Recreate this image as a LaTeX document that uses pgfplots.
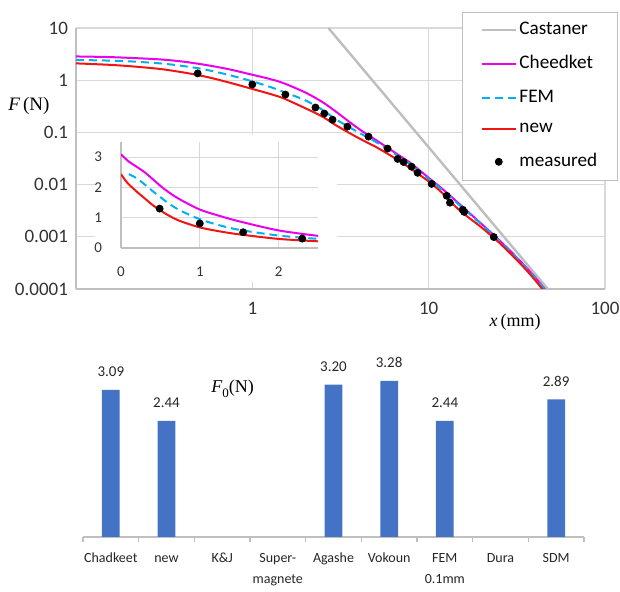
\documentclass[border=0pt]{standalone}
\usepackage{fontspec}
\setmainfont{Carlito}
\newfontfamily\serif{Liberation Serif}
\usepackage{pgfplots}
\usepackage{pgfplotstable}
\pgfplotsset{compat=1.18}
\pgfplotsset{/pgf/number format/assume math mode=true}

\definecolor{gridc}{RGB}{217,217,217}
\definecolor{axc}{RGB}{191,191,191}
\definecolor{cast}{RGB}{190,190,190}
\definecolor{chee}{RGB}{235,0,235}
\definecolor{fem}{RGB}{0,176,240}
\definecolor{newc}{RGB}{240,20,20}
\definecolor{barc}{HTML}{4472C4}

% main log-log curves
\pgfplotstableread{
x F
0.1 2.85
0.15 2.78
0.2 2.68
0.3 2.5
0.4 2.28
0.5 2.05
0.6 1.85
0.75 1.6
1 1.27
1.25 1.06
1.5 0.88
2 0.58
2.5 0.38
3 0.245
4 0.118
5 0.072
6 0.048
7 0.034
8 0.025
10 0.0135
12 0.0082
15 0.0042
20 0.00175
25 0.00088
30 0.00048
35 0.00028
40 0.00017
45 0.000105
50 0.000068
}\cheetab

\pgfplotstableread{
x F
0.1 2.44
0.15 2.38
0.2 2.3
0.3 2.1
0.4 1.88
0.5 1.68
0.6 1.48
0.75 1.24
1 0.95
1.25 0.75
1.5 0.6
2 0.41
2.5 0.27
3 0.175
4 0.1
5 0.066
6 0.045
7 0.032
8 0.0235
10 0.0128
12 0.0078
15 0.004
20 0.0017
25 0.00085
30 0.00047
35 0.00027
40 0.000165
45 0.000102
50 0.000066
}\femtab

\pgfplotstableread{
x F
0.1 2.1
0.15 1.98
0.2 1.86
0.3 1.64
0.4 1.42
0.5 1.24
0.6 1.08
0.75 0.89
1 0.68
1.25 0.55
1.5 0.45
2 0.29
2.5 0.2
3 0.135
4 0.078
5 0.053
6 0.037
7 0.027
8 0.0196
10 0.0115
12 0.0068
15 0.0032
20 0.0015
25 0.00078
30 0.00043
35 0.00025
40 0.00015
45 0.000092
50 0.00006
}\newtab

\pgfplotstableread{
x F
0.49 1.35
1.0 0.83
1.54 0.53
2.28 0.30
2.56 0.23
2.85 0.175
3.46 0.129
4.56 0.083
5.85 0.049
6.67 0.031
7.21 0.027
8.0 0.022
8.66 0.0168
10.4 0.0103
12.65 0.0061
13.2 0.0045
15.6 0.0033
15.9 0.0030
23.4 0.00099
}\meastab

\begin{document}
\begin{tikzpicture}
\path[use as bounding box] (0,0) rectangle (310pt,296pt);

% ---- top: log-log
\begin{axis}[
  at={(38pt,151.5pt)}, anchor=south west, scale only axis,
  width=264.5pt, height=130.5pt,
  xmode=log, ymode=log,
  xmin=0.1, xmax=100, ymin=1e-4, ymax=10,
  xtick={1,10,100}, xticklabels={1,10,100},
  ytick={1e-4,1e-3,1e-2,1e-1,1,10},
  yticklabels={0.0001,0.001,0.01,0.1,1,10},
  minor xtick={}, minor ytick={},
  grid=major, major grid style={gridc, line width=0.6pt},
  axis x line*=bottom, axis y line*=left,
  axis line style={axc, line width=0.8pt, -},
  tick style={draw=none},
  tick label style={font=\fontsize{9.5}{11}\selectfont, text=black!80},
  xticklabel style={yshift=-3pt},
  yticklabel style={xshift=-0.5pt},
  xlabel={{\serif\itshape x}\,{\serif (mm)}},
  xlabel style={at={(axis description cs:0.83,0)}, anchor=center, yshift=-16.5pt,
    font=\fontsize{9}{10}\selectfont},
  ylabel={{\serif\itshape F}\,{\serif (N)}},
  ylabel style={at={(axis description cs:-0.089,0.7)}, rotate=-90, anchor=center,
    font=\fontsize{9.5}{10}\selectfont},
  legend cell align=left,
  legend style={at={(1.0246,1.062)}, anchor=north east, draw=axc, fill=white,
    font=\fontsize{9.6}{11}\selectfont, row sep=5pt, inner xsep=9pt, inner ysep=3pt,
    nodes={inner xsep=1.2pt}},
]
\addplot[cast, line width=1.2pt] coordinates {(2.70,10) (47.4,0.0001)};
\addlegendentry{Castaner}
\addplot[chee, line width=1pt, smooth] table[x=x, y=F] {\cheetab};
\addlegendentry{Cheedket}
\addplot[fem, line width=1pt, dash pattern=on 4pt off 2.5pt, smooth] table[x=x, y=F] {\femtab};
\addlegendentry{FEM}
\addplot[newc, line width=1pt, smooth] table[x=x, y=F] {\newtab};
\addlegendentry{new}
\addplot[only marks, mark=*, mark size=1.75pt, black] table[x=x, y=F] {\meastab};
\addlegendentry{measured}
\end{axis}

% white background for the inset
\fill[white] (47.5pt,155pt) rectangle (168.5pt,228.5pt);

% ---- inset: linear
\begin{axis}[
  at={(60.5pt,172pt)}, anchor=south west, scale only axis,
  width=98.5pt, height=53pt,
  xmin=0, xmax=2.5, ymin=0, ymax=3.5,
  xtick={0,1,2}, ytick={0,1,2,3},
  grid=major, major grid style={gridc, line width=0.6pt},
  axis x line*=bottom, axis y line*=left,
  axis line style={axc, line width=0.8pt, -},
  tick style={draw=none},
  tick label style={font=\fontsize{7.5}{9}\selectfont, text=black!80},
  xticklabel style={yshift=-6pt},
  yticklabel style={xshift=-6pt},
]
\addplot[chee, line width=1pt, smooth] coordinates {
  (0,3.09) (0.1,2.85) (0.2,2.68) (0.3,2.5) (0.4,2.28) (0.5,2.05) (0.6,1.85)
  (0.75,1.6) (1,1.27) (1.25,1.06) (1.5,0.88) (2,0.58) (2.5,0.4)};
\addplot[fem, line width=1pt, dash pattern=on 4pt off 2.5pt, smooth] coordinates {
  (0.1,2.44) (0.2,2.3) (0.3,2.1) (0.4,1.88) (0.5,1.68) (0.6,1.48)
  (0.75,1.24) (1,0.95) (1.25,0.75) (1.5,0.6) (2,0.41) (2.5,0.3)};
\addplot[newc, line width=1pt, smooth] coordinates {
  (0,2.44) (0.05,2.25) (0.1,2.1) (0.2,1.86) (0.3,1.64) (0.4,1.42) (0.5,1.24)
  (0.6,1.08) (0.75,0.89) (1,0.68) (1.25,0.55) (1.5,0.45) (2,0.3) (2.5,0.22)};
\addplot[only marks, mark=*, mark size=1.75pt, black] coordinates {
  (0.49,1.3) (1.0,0.81) (1.55,0.52) (2.3,0.31)};
\end{axis}

% ---- bottom: F0 bars
\begin{axis}[
  at={(41.5pt,27.5pt)}, anchor=south west, scale only axis,
  width=250.5pt, height=90.4pt,
  xmin=-0.5, xmax=8.5, ymin=0, ymax=3.8,
  ybar, bar width=8.85pt,
  axis x line*=bottom, axis y line=none,
  axis line style={axc, line width=0.8pt, -},
  xtick={0,1,2,3,4,5,6,7,8},
  xticklabels={Chadkeet,new,K\&J,Super-\\magnete,Agashe,Vokoun,FEM\\0.1mm,Dura,SDM},
  typeset ticklabels with strut,
  xticklabel style={align=center, font=\fontsize{7}{10.5}\selectfont, text=black!85, yshift=-2pt},
  minor xtick={-0.5,0.5,1.5,2.5,3.5,4.5,5.5,6.5,7.5,8.5},
  xtick align=outside, major tick length=0pt, minor tick length=2.5pt,
  minor tick style={axc, line width=0.6pt},
  nodes near coords={\pgfmathprintnumber[fixed,fixed zerofill,precision=2]{\pgfplotspointmeta}},
  nodes near coords style={font=\fontsize{7.5}{9}\selectfont, text=black!85, anchor=center, yshift=9pt},
]
\addplot[fill=barc, draw=none] coordinates {
  (0,3.09) (1,2.44) (4,3.20) (5,3.28) (6,2.44) (8,2.89)};
\node[font=\fontsize{9}{10}\selectfont] at (axis cs:2.19,3.12)
  {{\serif\itshape F}\raisebox{-0.6ex}{\serif\fontsize{6.5}{7}\selectfont 0}{\serif (N)}};
\end{axis}
\end{tikzpicture}
\end{document}
